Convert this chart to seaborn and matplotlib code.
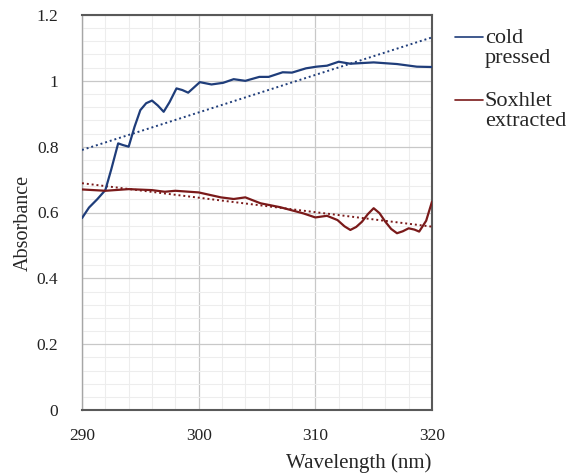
import numpy as np
import pandas as pd
import matplotlib
matplotlib.use("Agg")
import matplotlib.pyplot as plt
import seaborn as sns

# ---- data ----
wl_cold = [290, 290.6, 291.3, 292, 292.5, 293.1, 293.5, 294, 294.5, 295, 295.5, 296, 296.5, 297,
           297.5, 298.1, 298.6, 299.1, 299.6, 300.1, 301.1, 302.1, 303, 304, 305.2, 306, 307.2,
           308, 309.2, 310.1, 311, 312, 313, 315, 317, 318.7, 320]
abs_cold = [0.583, 0.615, 0.640, 0.668, 0.730, 0.810, 0.805, 0.800, 0.860, 0.911, 0.932, 0.940, 0.925, 0.906,
            0.935, 0.977, 0.972, 0.964, 0.980, 0.996, 0.989, 0.994, 1.005, 1.000, 1.012, 1.012, 1.026,
            1.025, 1.038, 1.043, 1.046, 1.058, 1.052, 1.056, 1.051, 1.043, 1.042]

wl_sox = [290, 292, 294, 296, 297.1, 298, 300, 301.9, 303, 304, 305.3, 307, 309, 310, 311, 311.9,
          312.5, 313, 313.5, 314, 314.5, 315, 315.5, 316, 316.5, 317, 317.5, 318, 318.5, 318.9, 319.5, 320]
abs_sox = [0.670, 0.666, 0.671, 0.668, 0.663, 0.666, 0.661, 0.646, 0.641, 0.646, 0.628, 0.616, 0.597,
           0.585, 0.590, 0.577, 0.558, 0.547, 0.556, 0.572, 0.595, 0.613, 0.598, 0.572, 0.550, 0.537,
           0.543, 0.552, 0.548, 0.542, 0.575, 0.633]

trend_x = [290, 320]
trend_cold = [0.790, 1.132]
trend_sox = [0.689, 0.557]

x_ticks = [290, 300, 310, 320]
y_ticks = [0, 0.2, 0.4, 0.6, 0.8, 1.0, 1.2]
y_labels = ["0", "0.2", "0.4", "0.6", "0.8", "1", "1.2"]

blue = "#1F3D7A"
red = "#7A1A1A"

sns.set_theme(style="white")
plt.rcParams["font.family"] = ["Liberation Serif", "DejaVu Serif"]

fig = plt.figure(figsize=(5.8, 4.75), dpi=100)
ax = fig.add_axes([82/580, 1-410/475, 350/580, 395/475])

df_cold = pd.DataFrame({"wl": wl_cold, "a": abs_cold})
df_sox = pd.DataFrame({"wl": wl_sox, "a": abs_sox})
df_tc = pd.DataFrame({"wl": trend_x, "a": trend_cold})
df_ts = pd.DataFrame({"wl": trend_x, "a": trend_sox})

sns.lineplot(data=df_cold, x="wl", y="a", ax=ax, color=blue, lw=1.6, label="cold\npressed", zorder=4)
sns.lineplot(data=df_sox, x="wl", y="a", ax=ax, color=red, lw=1.6, label="Soxhlet\nextracted", zorder=4)
sns.lineplot(data=df_tc, x="wl", y="a", ax=ax, color=blue, lw=1.4, ls=(0, (1, 1.5)), zorder=3, legend=False)
sns.lineplot(data=df_ts, x="wl", y="a", ax=ax, color=red, lw=1.4, ls=(0, (1, 1.5)), zorder=3, legend=False)

ax.set_xlim(290, 320)
ax.set_ylim(0, 1.2)
ax.set_xticks(x_ticks)
ax.set_yticks(y_ticks)
ax.set_yticklabels(y_labels)
ax.set_xticks(np.arange(290, 321, 2), minor=True)
ax.set_yticks(np.arange(0, 1.21, 0.04), minor=True)
ax.grid(which="major", color="#C8C8C8", lw=0.9, zorder=0)
ax.grid(which="minor", color="#EDEDED", lw=0.8, zorder=0)
ax.set_axisbelow(True)

for s in ["top", "right", "bottom"]:
    ax.spines[s].set_color("#595959")
    ax.spines[s].set_linewidth(1.5)
ax.spines["left"].set_color("#A6A6A6")
ax.spines["left"].set_linewidth(1.0)

ax.tick_params(axis="both", which="major", labelsize=12.5, colors="#A6A6A6", labelcolor="#222222",
               length=5, width=0.9, direction="out")
ax.tick_params(axis="x", which="major", pad=8)
ax.tick_params(axis="y", which="major", pad=12)
ax.tick_params(axis="both", which="minor", length=0)

ax.set_xlabel("Wavelength (nm)", fontsize=15)
ax.set_ylabel("Absorbance", fontsize=14.5)
ax.xaxis.set_label_coords(0.79, -(463 - 410) / 395)
ax.xaxis.label.set_va("center")
ax.yaxis.set_label_coords(-(82 - 23) / 350, 0.5 - 10 / 395)
ax.yaxis.label.set_va("center")

leg = ax.legend(loc="upper left", bbox_to_anchor=(1.0 + 23 / 350, 1.0 - 14 / 395), frameon=False,
                fontsize=16, handlelength=1.25, handletextpad=0.1, labelspacing=1.05, borderaxespad=0,
                borderpad=0)
for t in leg.get_texts():
    t.set_linespacing(1.1)
for line in leg.get_lines():
    line.set_linewidth(1.2)
    line.set_ydata(np.asarray(line.get_ydata()) + 8)

fig.savefig("out.png", dpi=100)
